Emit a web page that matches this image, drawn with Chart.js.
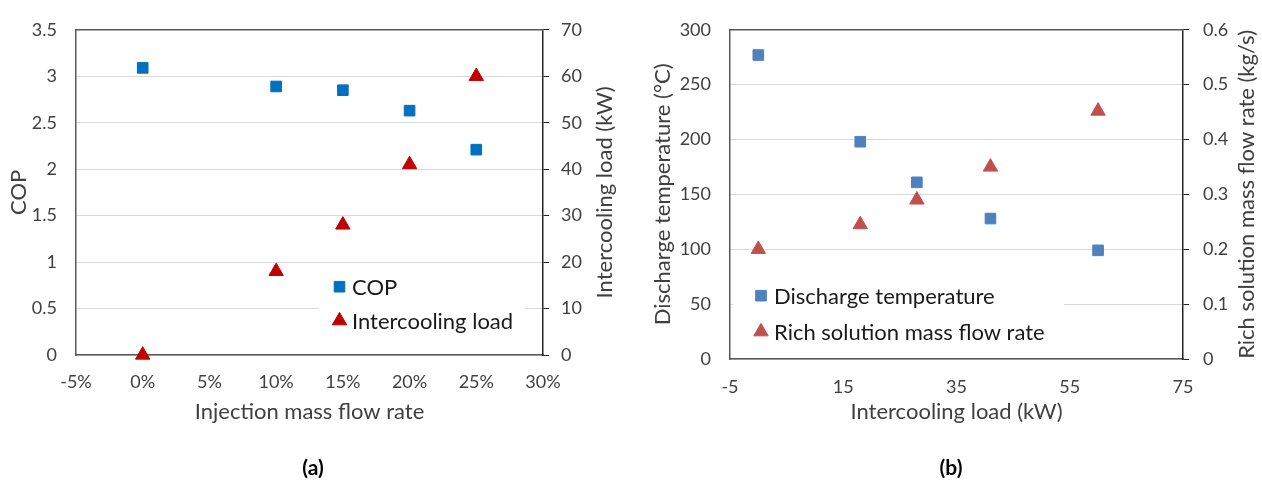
<!DOCTYPE html>
<html>
<head>
<meta charset="utf-8">
<title>Injection and intercooling</title>
<script src="https://cdn.jsdelivr.net/npm/chart.js@4.4.1/dist/chart.umd.min.js"></script>
<style>
  body { margin: 0; background: #fff; }
  #page { position: relative; width: 1262px; height: 486px; overflow: hidden; }
  canvas { position: absolute; top: 0; }
  #chartA { left: 0; }
  #chartB { left: 630px; }
  .caption { position: absolute; top: 454px; width: 100px; text-align: center; font: bold 21px Lato, sans-serif; color: #000; }
</style>
</head>
<body>
<div id="page">
  <canvas id="chartA" width="630" height="486"></canvas>
  <canvas id="chartB" width="632" height="486"></canvas>
  <div class="caption" style="left:263px">(a)</div>
  <div class="caption" style="left:901px">(b)</div>
</div>
<script>
// chart (a)
const injectionRate = [0, 0.10, 0.15, 0.20, 0.25];
const cop = [3.09, 2.89, 2.85, 2.63, 2.21];
const intercoolingLoad = [0, 18, 28, 41, 60];

// chart (b), x is the intercooling load above
const dischargeTemp = [277, 198, 161, 128, 99];
const richSolutionFlow = [0.20, 0.245, 0.29, 0.35, 0.452];

const labelsA = ['COP', 'Intercooling load'];
const labelsB = ['Discharge temperature', 'Rich solution mass flow rate'];

Chart.defaults.font.family = 'Lato, sans-serif';
Chart.defaults.color = '#404040';

// box border, in-plot legend and the right hand title (reads bottom to top like Excel)
const framePlugin = {
    id: 'frame',
    beforeDatasetsDraw(chart, args, opts) {
        const ctx = chart.ctx;
        const lg = opts.legend;
        ctx.save();
        ctx.fillStyle = '#fff';
        ctx.fillRect(lg.x, lg.y, lg.w, lg.h);
        chart.data.datasets.forEach(function (ds, i) {
            ctx.fillStyle = ds.backgroundColor;
            ctx.strokeStyle = ds.borderColor;
            ctx.lineWidth = 1;
            Chart.helpers.drawPoint(ctx, {
                pointStyle: ds.pointStyle,
                radius: ds.pointRadius,
                borderWidth: 1,
                rotation: 0
            }, lg.markX, lg.rows[i]);
            ctx.fillStyle = '#1a1a1a';
            ctx.font = '22px Lato, sans-serif';
            ctx.textAlign = 'left';
            ctx.textBaseline = 'middle';
            ctx.fillText(ds.label, lg.textX, lg.rows[i] + 1);
        });
        ctx.restore();
    },
    afterDraw(chart, args, opts) {
        const ctx = chart.ctx;
        const a = chart.chartArea;
        ctx.save();
        ctx.strokeStyle = '#595959';
        ctx.lineWidth = 1.5;
        ctx.beginPath();
        ctx.moveTo(a.left, a.top);
        ctx.lineTo(a.right, a.top);
        ctx.stroke();

        ctx.translate(opts.rightTitleX, (a.top + a.bottom) / 2);
        ctx.rotate(-Math.PI / 2);
        ctx.fillStyle = '#404040';
        ctx.font = '22px Lato, sans-serif';
        ctx.textAlign = 'center';
        ctx.textBaseline = 'middle';
        ctx.fillText(opts.rightTitle, 0, 0);
        ctx.restore();
    }
};

function pts(xs, ys) {
    return xs.map(function (x, i) { return {x: x, y: ys[i]}; });
}

function fixWidth(w) { return function (scale) { scale.width = w; }; }
function fixHeight(h) { return function (scale) { scale.height = h; }; }

// Excel style numbers: 3 not 3.0, 0.3 not 0.30000000000000004
function plain(v) { return String(Number(v.toFixed(2))); }

const tickFont = {size: 18};
const titleFont = {size: 22};

new Chart(document.getElementById('chartA'), {
    type: 'scatter',
    data: {
        datasets: [
            {
                label: labelsA[0],
                data: pts(injectionRate, cop),
                yAxisID: 'y',
                pointStyle: 'rect',
                pointRadius: 7.5,
                backgroundColor: '#0070C0',
                borderColor: '#0070C0',
                borderWidth: 1,
                clip: false
            },
            {
                label: labelsA[1],
                data: pts(injectionRate, intercoolingLoad),
                yAxisID: 'y1',
                pointStyle: 'triangle',
                pointRadius: 8.3,
                backgroundColor: '#C00000',
                borderColor: '#C00000',
                borderWidth: 1,
                clip: false
            }
        ]
    },
    options: {
        responsive: false,
        animation: false,
        events: [],
        layout: {padding: {top: 23, left: 0, right: 0, bottom: 61}},
        scales: {
            x: {
                type: 'linear',
                min: -0.05,
                max: 0.30,
                afterFit: fixHeight(70),
                ticks: {
                    stepSize: 0.05,
                    padding: 16,
                    font: tickFont,
                    callback: function (v) { return Math.round(v * 100) + '%'; }
                },
                grid: {drawOnChartArea: false, drawTicks: false},
                border: {color: '#595959', width: 1.5},
                title: {display: true, text: 'Injection mass flow rate', font: titleFont, padding: 0}
            },
            y: {
                position: 'left',
                min: 0,
                max: 3.5,
                afterFit: fixWidth(76),
                ticks: {stepSize: 0.5, padding: 19, font: tickFont, callback: plain},
                grid: {color: '#d9d9d9', drawTicks: false},
                border: {color: '#595959', width: 1.5},
                title: {display: true, text: 'COP', font: titleFont, padding: {top: 6, bottom: 0}}
            },
            y1: {
                position: 'right',
                min: 0,
                max: 70,
                afterFit: fixWidth(87),
                ticks: {stepSize: 10, padding: 12, font: tickFont, callback: plain},
                grid: {drawOnChartArea: false, drawTicks: true, tickLength: 6, color: '#262626'},
                border: {color: '#262626', width: 1.5}
            }
        },
        plugins: {
            legend: {display: false},
            tooltip: {enabled: false},
            frame: {
                rightTitle: 'Intercooling load (kW)',
                rightTitleX: 605,
                legend: {x: 319, y: 270, w: 206, h: 75, markX: 339.5, textX: 352, rows: [286.7, 320.7]}
            }
        }
    },
    plugins: [framePlugin]
});

new Chart(document.getElementById('chartB'), {
    type: 'scatter',
    data: {
        datasets: [
            {
                label: labelsB[0],
                data: pts(intercoolingLoad, dischargeTemp),
                yAxisID: 'y',
                pointStyle: 'rect',
                pointRadius: 7.5,
                backgroundColor: '#4F81BD',
                borderColor: '#4F81BD',
                borderWidth: 1,
                clip: false
            },
            {
                label: labelsB[1],
                data: pts(intercoolingLoad, richSolutionFlow),
                yAxisID: 'y1',
                pointStyle: 'triangle',
                pointRadius: 8.3,
                backgroundColor: '#C0504D',
                borderColor: '#C0504D',
                borderWidth: 1,
                clip: false
            }
        ]
    },
    options: {
        responsive: false,
        animation: false,
        events: [],
        layout: {padding: {top: 13, left: 0, right: 0, bottom: 61}},
        scales: {
            x: {
                type: 'linear',
                min: -5,
                max: 75,
                afterFit: fixHeight(66),
                ticks: {stepSize: 20, padding: 17, font: tickFont, callback: plain},
                grid: {drawOnChartArea: false, drawTicks: false},
                border: {color: '#595959', width: 1.5},
                title: {display: true, text: 'Intercooling load (kW)', font: titleFont, padding: 0}
            },
            y: {
                position: 'left',
                min: 0,
                max: 300,
                afterFit: fixWidth(100),
                ticks: {stepSize: 50, padding: 19, font: tickFont, callback: plain},
                grid: {color: '#d9d9d9', drawTicks: false},
                border: {color: '#595959', width: 1.5},
                title: {display: true, text: 'Discharge temperature (°C)', font: titleFont, padding: {top: 20, bottom: 0}}
            },
            y1: {
                position: 'right',
                min: 0,
                max: 0.6,
                afterFit: fixWidth(79),
                ticks: {stepSize: 0.1, padding: 14, font: tickFont, callback: plain},
                grid: {drawOnChartArea: false, drawTicks: true, tickLength: 6, color: '#262626'},
                border: {color: '#262626', width: 1.5}
            }
        },
        plugins: {
            legend: {display: false},
            tooltip: {enabled: false},
            frame: {
                rightTitle: 'Rich solution mass flow rate (kg/s)',
                rightTitleX: 617,
                legend: {x: 103, y: 276, w: 331, h: 75, markX: 131, textX: 144, rows: [295.7, 331.7]}
            }
        }
    },
    plugins: [framePlugin]
});
</script>
</body>
</html>
